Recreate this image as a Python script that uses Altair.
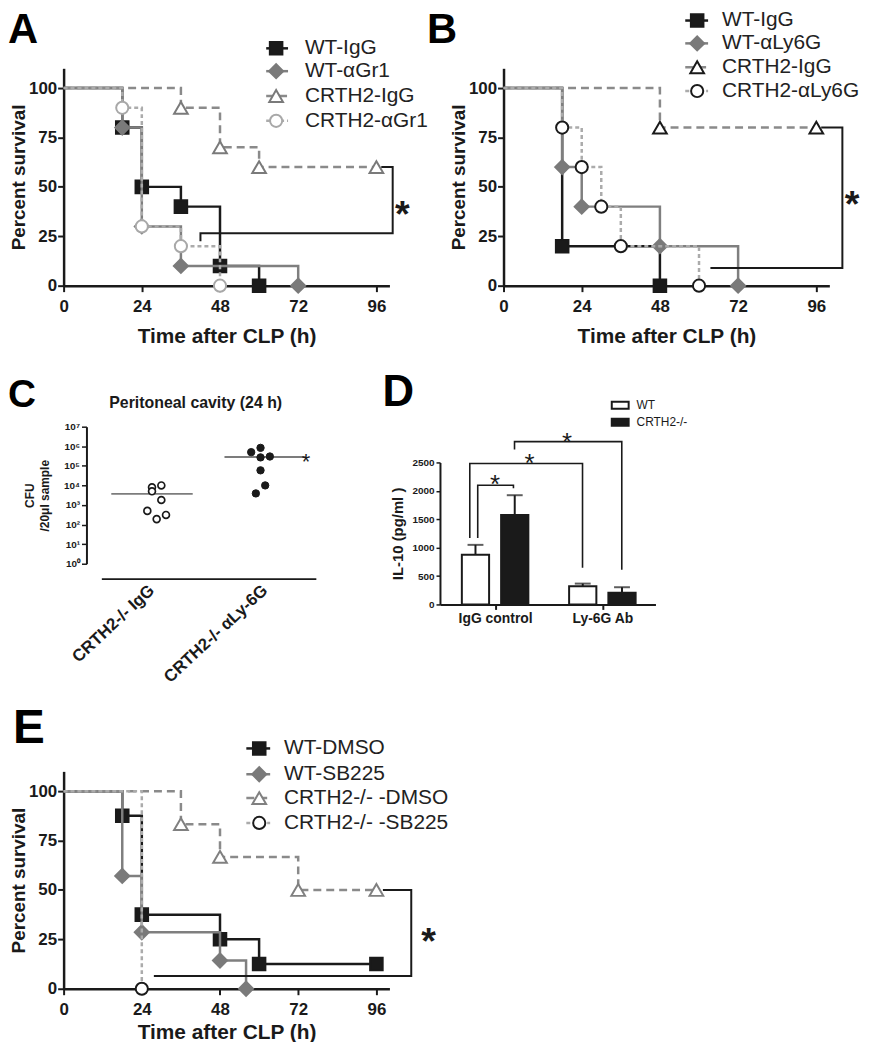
import altair as alt
import pandas as pd

W, H = 862, 1034
FONT = "Liberation Sans"
INK = "#1a1a1a"
PX_H = 3.281   # pixels per hour on survival axes
PX_P = 1.99    # pixels per percent on survival axes

# ---------------- Panel A ----------------
A_NAMES = ["WT-IgG", "WT-\u03b1Gr1", "CRTH2-IgG", "CRTH2-\u03b1Gr1"]
A_WT_IGG_T = [0, 18, 24, 36, 48, 60]
A_WT_IGG_S = [100, 80, 50, 40, 10, 0]
A_WT_GR1_T = [0, 18, 24, 36, 72]
A_WT_GR1_S = [100, 80, 30, 10, 0]
A_KO_IGG_T = [0, 36, 48, 60, 96]
A_KO_IGG_S = [100, 90, 70, 60, 60]
A_KO_GR1_T = [0, 18, 24, 36, 48]
A_KO_GR1_S = [100, 90, 30, 20, 0]
A_BRACKET_T = [97.5, 101, 101, 42, 42]
A_BRACKET_S = [60, 60, 26.5, 26.5, 22.5]
A_STAR = [104, 41]

# ---------------- Panel B ----------------
B_NAMES = ["WT-IgG", "WT-\u03b1Ly6G", "CRTH2-IgG", "CRTH2-\u03b1Ly6G"]
B_WT_IGG_T = [0, 18, 48]
B_WT_IGG_S = [100, 20, 0]
B_WT_LY_T = [0, 18, 24, 48, 72]
B_WT_LY_S = [100, 60, 40, 20, 0]
B_KO_IGG_T = [0, 48, 96]
B_KO_IGG_S = [100, 80, 80]
B_KO_LY_T = [0, 18, 24, 30, 36, 60]
B_KO_LY_S = [100, 80, 60, 40, 20, 0]
B_BRACKET_T = [97.5, 104, 104, 63.5]
B_BRACKET_S = [80, 80, 9, 9]
B_STAR = [107, 46]

# ---------------- Panel E ----------------
E_NAMES = ["WT-DMSO", "WT-SB225", "CRTH2-/- -DMSO", "CRTH2-/- -SB225"]
E_WT_DMSO_T = [0, 18, 24, 48, 60, 96]
E_WT_DMSO_S = [100, 87.5, 37.5, 25, 12.5, 12.5]
E_WT_SB_T = [0, 18, 24, 48, 56]
E_WT_SB_S = [100, 57.1, 28.6, 14.3, 0]
E_KO_DMSO_T = [0, 36, 48, 72, 96]
E_KO_DMSO_S = [100, 83.3, 66.7, 50, 50]
E_KO_SB_T = [0, 24]
E_KO_SB_S = [100, 0]
E_BRACKET_T = [98, 106.7, 106.7, 27.7]
E_BRACKET_S = [50, 50, 6.5, 6.5]
E_STAR = [112, 28.6]

# ---------------- Panel C ----------------
C_GROUPS = ["CRTH2-/- IgG", "CRTH2-/-  \u03b1Ly-6G"]
C_IGG_CFU = [8000, 5000, 10000, 1800, 500, 190, 310]
C_IGG_SLOT = [0, 0, 2, 2, -1, 1, 3]
C_LY_CFU = [500000, 830000, 270000, 300000, 59000, 10000, 3900]
C_LY_SLOT = [-3, -1, -1, 1, -1, 0, -2]
C_MEDIAN = [3700, 280000]

# ---------------- Panel D ----------------
D_GROUPS = ["IgG control", "Ly-6G Ab"]
D_GENO = ["WT", "CRTH2-/-"]
D_WT_MEAN = [874, 320]
D_WT_SEM = [175, 47]
D_KO_MEAN = [1573, 204]
D_KO_SEM = [350, 99]
D_BR1_X = [-0.162, -0.162, 0.171, 0.171]
D_BR1_Y = [1171, 2098, 2098, 2045]
D_BR2_X = [-0.236, -0.236, 0.815, 0.815]
D_BR2_Y = [1171, 2482, 2482, 647]
D_BR3_X = [0.181, 0.181, 1.181, 1.181]
D_BR3_Y = [2727, 2867, 2867, 612]
D_STAR_X = [0, 0.32, 0.67]
D_STAR_Y = [2220, 2587, 2972]

AX = dict(grid=False, domainColor=INK, tickColor=INK, labelFont=FONT,
          labelFontWeight="bold", labelColor=INK, labelFlush=False,
          labelOverlap=False, titleFont=FONT, titleFontWeight="bold",
          titleColor=INK)

DUMMY = pd.DataFrame({"d": [0]})


def style(line, shape, fill, stroke, dash=None, size=160):
    return dict(line=line, dash=dash, shape=shape, fill=fill, stroke=stroke, size=size)


def marker_kw(st):
    return dict(shape=st["shape"], size=st["size"], filled=True, fill=st["fill"],
                stroke=st["stroke"], strokeWidth=2, opacity=1)


def line_kw(st, width=2.5):
    kw = dict(color=st["line"], strokeWidth=width)
    if st["dash"]:
        kw["strokeDash"] = st["dash"]
    return kw


def km_panel(series, origin, bracket, star, title_pad):
    ox, oy = origin
    cx, cy = ox - 8, oy - 8
    xs = alt.Scale(domain=[0, 100], range=[cx, cx + 100 * PX_H], nice=False, zero=False)
    ys = alt.Scale(domain=[0, 110], range=[cy, cy - 110 * PX_P], nice=False, zero=False)
    xa = alt.Axis(orient="bottom", offset=cy - H, values=[0, 24, 48, 72, 96],
                  title="Time after CLP (h)", domainWidth=2.5, tickWidth=2, tickSize=6,
                  labelFontSize=17, labelPadding=7, titleFontSize=21, titlePadding=title_pad,
                  **AX)
    ya = alt.Axis(orient="left", offset=-cx, values=[0, 25, 50, 75, 100],
                  title="Percent survival", domainWidth=2.5, tickWidth=2, tickSize=6,
                  labelFontSize=17, labelPadding=1, titleFontSize=19, titlePadding=0, **AX)
    layers = []
    for k, (t, s, st) in enumerate(series):
        df = pd.DataFrame({"t": t, "s": s})
        layers.append(alt.Chart(df).mark_line(interpolate="step-after", **line_kw(st)).encode(
            x=alt.X("t:Q", scale=xs, axis=xa if k == 0 else None),
            y=alt.Y("s:Q", scale=ys, axis=ya if k == 0 else None)))
        layers.append(alt.Chart(df).transform_filter("datum.t > 0").mark_point(**marker_kw(st)).encode(
            x=alt.X("t:Q", scale=xs, axis=None),
            y=alt.Y("s:Q", scale=ys, axis=None)))
    bt, bs = bracket
    bdf = pd.DataFrame({"i": list(range(len(bt))), "t": bt, "s": bs})
    layers.append(alt.Chart(bdf).mark_line(color=INK, strokeWidth=2).encode(
        x=alt.X("t:Q", scale=xs, axis=None), y=alt.Y("s:Q", scale=ys, axis=None),
        order="i:Q"))
    sdf = pd.DataFrame({"t": [star[0]], "s": [star[1]]})
    layers.append(alt.Chart(sdf).mark_text(text="*", font=FONT, fontSize=38, fontWeight="bold",
                                           baseline="middle", dy=11, color=INK).encode(
        x=alt.X("t:Q", scale=xs, axis=None), y=alt.Y("s:Q", scale=ys, axis=None)))
    return layers


def legend(names, styles, rows_y, lx0, lx1, mx, tx):
    out = []
    for name, st, y in zip(names, styles, rows_y):
        out.append(alt.Chart(DUMMY).mark_rule(**line_kw(st)).encode(
            x=alt.value(lx0), x2=alt.value(lx1), y=alt.value(y)))
        out.append(alt.Chart(DUMMY).mark_point(**marker_kw(st)).encode(
            x=alt.value(mx), y=alt.value(y)))
        out.append(alt.Chart(DUMMY).mark_text(align="left", baseline="middle", font=FONT,
                                              fontSize=21, color="#222222").encode(
            x=alt.value(tx), y=alt.value(y), text=alt.value(name)))
    return out


def letter(ch, x, y, size):
    return alt.Chart(DUMMY).mark_text(align="left", baseline="alphabetic", font=FONT,
                                      fontSize=size, fontWeight="bold", color="#000000").encode(
        x=alt.value(x), y=alt.value(y), text=alt.value(ch))


GRAY_LINE = "#7f7f7f"
GRAY_FILL = "#7a7a7a"
DASH_GRAY = "#8a8a8a"
DOT_GRAY = "#ababab"

A_STYLES = [style(INK, "square", INK, INK, size=160),
            style(GRAY_LINE, "diamond", GRAY_FILL, GRAY_FILL, size=200),
            style(DASH_GRAY, "triangle-up", "white", "#7a7a7a", dash=[8, 5], size=190),
            style(DOT_GRAY, "circle", "white", "#a8a8a8", dash=[4, 3], size=150)]
B_STYLES = [style(INK, "square", INK, INK, size=160),
            style(GRAY_LINE, "diamond", GRAY_FILL, GRAY_FILL, size=200),
            style(DASH_GRAY, "triangle-up", "white", INK, dash=[8, 5], size=190),
            style(DOT_GRAY, "circle", "white", INK, dash=[4, 3], size=150)]
E_STYLES = [style(INK, "square", INK, INK, size=160),
            style(GRAY_LINE, "diamond", GRAY_FILL, GRAY_FILL, size=200),
            style(DASH_GRAY, "triangle-up", "white", "#808080", dash=[8, 5], size=190),
            style(DOT_GRAY, "circle", "white", INK, dash=[4, 3], size=150)]

panel_a = km_panel([(A_WT_IGG_T, A_WT_IGG_S, A_STYLES[0]), (A_WT_GR1_T, A_WT_GR1_S, A_STYLES[1]),
                    (A_KO_IGG_T, A_KO_IGG_S, A_STYLES[2]), (A_KO_GR1_T, A_KO_GR1_S, A_STYLES[3])],
                   (64, 284), (A_BRACKET_T, A_BRACKET_S), A_STAR, 11)
panel_b = km_panel([(B_WT_IGG_T, B_WT_IGG_S, B_STYLES[0]), (B_WT_LY_T, B_WT_LY_S, B_STYLES[1]),
                    (B_KO_IGG_T, B_KO_IGG_S, B_STYLES[2]), (B_KO_LY_T, B_KO_LY_S, B_STYLES[3])],
                   (507, 284), (B_BRACKET_T, B_BRACKET_S), B_STAR, 11)
panel_e = km_panel([(E_WT_DMSO_T, E_WT_DMSO_S, E_STYLES[0]), (E_WT_SB_T, E_WT_SB_S, E_STYLES[1]),
                    (E_KO_DMSO_T, E_KO_DMSO_S, E_STYLES[2]), (E_KO_SB_T, E_KO_SB_S, E_STYLES[3])],
                   (64, 992), (E_BRACKET_T, E_BRACKET_S), E_STAR, 4)

# ---------------- Panel C build ----------------
SUP = "\u2070\u00b9\u00b2\u00b3\u2074\u2075\u2076\u2077"
EXP = "round(log(datum.value)/LN10)"
sup_expr = "''"
for i in reversed(range(8)):
    sup_expr = f"({EXP} == {i} ? '{SUP[i]}' : {sup_expr})"
sup_expr = "'10' + " + sup_expr

C_BAND = 216 / (2 - 0.5 + 2 * 0.1975) * 0.5   # band width of the category scale below
ycS = alt.Scale(type="log", domain=[1, 1e7], range=[556, 418], nice=False)
xcS = alt.Scale(domain=C_GROUPS, range=[94, 310], paddingInner=0.5, paddingOuter=0.1975)
xaC = alt.Axis(orient="bottom", offset=571 - H, title=None, ticks=False, domainWidth=2,
               labelAngle=-43, labelAlign="right", labelBaseline="middle",
               labelFontSize=17, labelPadding=9, **AX)
yaC = alt.Axis(orient="left", offset=-79, values=[10 ** i for i in range(8)], labelExpr=sup_expr,
               domainWidth=2, tickWidth=1.5, tickSize=5, labelFontSize=10, labelPadding=2,
               title=["CFU", "/20\u03bcl sample"], titleFontSize=12, titleLineHeight=15,
               titlePadding=12, **AX)
offS = alt.Scale(domain=[0, 1], range=[C_BAND / 2, C_BAND / 2 + 4.7])

c_med = pd.DataFrame({"grp": C_GROUPS, "cfu": C_MEDIAN})
c_igg = pd.DataFrame({"grp": C_GROUPS[0], "cfu": C_IGG_CFU, "slot": C_IGG_SLOT})
c_ly = pd.DataFrame({"grp": C_GROUPS[1], "cfu": C_LY_CFU, "slot": C_LY_SLOT})
c_star = pd.DataFrame({"grp": [C_GROUPS[1]], "cfu": [C_MEDIAN[1]]})

panel_c = [
    alt.Chart(c_med).mark_tick(orient="horizontal", size=82, thickness=2, color="#444444").encode(
        x=alt.X("grp:N", scale=xcS, axis=xaC), y=alt.Y("cfu:Q", scale=ycS, axis=yaC)),
    alt.Chart(c_igg).mark_point(shape="circle", size=48, filled=True, fill="white", stroke=INK,
                                strokeWidth=1.7, opacity=1).encode(
        x=alt.X("grp:N", scale=xcS, axis=None), y=alt.Y("cfu:Q", scale=ycS, axis=None),
        xOffset=alt.XOffset("slot:Q", scale=offS)),
    alt.Chart(c_ly).mark_point(shape="circle", size=55, filled=True, fill=INK, stroke=INK,
                               strokeWidth=1, opacity=1).encode(
        x=alt.X("grp:N", scale=xcS, axis=None), y=alt.Y("cfu:Q", scale=ycS, axis=None),
        xOffset=alt.XOffset("slot:Q", scale=offS)),
    alt.Chart(c_star).mark_text(text="*", font=FONT, fontSize=22, baseline="middle", dx=44, dy=5,
                                color=INK).encode(
        x=alt.X("grp:N", scale=xcS, axis=None), y=alt.Y("cfu:Q", scale=ycS, axis=None)),
]

# ---------------- Panel D build ----------------
xdS = alt.Scale(domain=[-0.514, 1.495], range=[435, 652], nice=False, zero=False)
ydS = alt.Scale(domain=[0, 2500], range=[597, 454], nice=False, zero=False)
xaD = alt.Axis(orient="bottom", offset=597 - H, values=[0, 1],
               labelExpr="datum.value == 0 ? '%s' : '%s'" % (D_GROUPS[0], D_GROUPS[1]),
               title=None, domainWidth=2, tickWidth=2, tickSize=5, labelFontSize=14,
               labelPadding=2, **AX)
yaD = alt.Axis(orient="left", offset=-435, values=[0, 500, 1000, 1500, 2000, 2500], format="d",
               title="IL-10  (pg/ml )", domainWidth=2, tickWidth=1.5, tickSize=4,
               labelFontSize=10, labelPadding=2, titleFontSize=15, titlePadding=6, **AX)

d_df = pd.DataFrame({
    "grp": [0, 1, 0, 1],
    "geno": [D_GENO[0], D_GENO[0], D_GENO[1], D_GENO[1]],
    "mean": D_WT_MEAN + D_KO_MEAN,
    "sem": D_WT_SEM + D_KO_SEM,
})
d_base = alt.Chart(d_df).transform_calculate(
    xc="datum.grp + (datum.geno == 'WT' ? -0.183 : 0.183)",
    x0="datum.grp + (datum.geno == 'WT' ? -0.183 : 0.183) - 0.127",
    x1="datum.grp + (datum.geno == 'WT' ? -0.183 : 0.183) + 0.127",
    base="0",
    top="datum.mean + datum.sem",
)
panel_d = [
    d_base.mark_rule(color=INK, strokeWidth=2).encode(
        x=alt.X("xc:Q", scale=xdS, axis=xaD), y=alt.Y("mean:Q", scale=ydS, axis=yaD),
        y2="top:Q"),
    d_base.mark_tick(orient="horizontal", size=16, thickness=2, color=INK).encode(
        x=alt.X("xc:Q", scale=xdS, axis=None), y=alt.Y("top:Q", scale=ydS, axis=None)),
    d_base.mark_rect(stroke=INK, strokeWidth=2).encode(
        x=alt.X("x0:Q", scale=xdS, axis=None), x2="x1:Q",
        y=alt.Y("mean:Q", scale=ydS, axis=None), y2="base:Q",
        fill=alt.Fill("geno:N", scale=alt.Scale(domain=D_GENO, range=["white", INK]), legend=None)),
]
for bx, by in [(D_BR1_X, D_BR1_Y), (D_BR2_X, D_BR2_Y), (D_BR3_X, D_BR3_Y)]:
    bdf = pd.DataFrame({"i": list(range(len(bx))), "x": bx, "y": by})
    panel_d.append(alt.Chart(bdf).mark_line(color=INK, strokeWidth=1.6).encode(
        x=alt.X("x:Q", scale=xdS, axis=None), y=alt.Y("y:Q", scale=ydS, axis=None), order="i:Q"))
panel_d.append(alt.Chart(pd.DataFrame({"x": D_STAR_X, "y": D_STAR_Y})).mark_text(
    text="*", font=FONT, fontSize=26, baseline="middle", dy=7, color=INK).encode(
    x=alt.X("x:Q", scale=xdS, axis=None), y=alt.Y("y:Q", scale=ydS, axis=None)))

# ---------------- decorations (legends, letters, titles) ----------------
deco = []
deco += legend(A_NAMES, A_STYLES, [37, 60, 85, 110], 260, 282, 270, 299)
deco += legend(B_NAMES, B_STYLES, [9, 32, 56, 80], 682, 705, 694, 719)
deco += legend(E_NAMES, E_STYLES, [742, 768, 792, 817], 240, 264, 253, 278)
deco.append(letter("A", 0, 32, 42))
deco.append(letter("B", 422, 32, 42))
deco.append(letter("C", 0, 398, 39))
deco.append(letter("D", 377, 397, 44))
deco.append(letter("E", 5, 737, 48))
deco.append(alt.Chart(DUMMY).mark_text(align="center", baseline="middle", font=FONT, fontSize=16,
                                       fontWeight="bold", color=INK).encode(
    x=alt.value(189), y=alt.value(394), text=alt.value("Peritoneal cavity (24 h)")))
for g, fill, y in [(D_GENO[0], "white", 396.5), (D_GENO[1], INK, 413.5)]:
    deco.append(alt.Chart(DUMMY).mark_rect(fill=fill, stroke=INK, strokeWidth=2).encode(
        x=alt.value(608), x2=alt.value(625), y=alt.value(y - 3.5), y2=alt.value(y + 3.5)))
    deco.append(alt.Chart(DUMMY).mark_text(align="left", baseline="middle", font=FONT,
                                           fontSize=12, color=INK).encode(
        x=alt.value(633), y=alt.value(y), text=alt.value(g)))

chart = alt.layer(*panel_a, *panel_b, *panel_c, *panel_d, *panel_e, *deco).resolve_scale(
    x="independent", y="independent"
).properties(
    width=W, height=H, padding=0, autosize=alt.AutoSizeParams(type="none")
).configure(font=FONT).configure_view(stroke=None)

chart.save("out.html", embed_options={"renderer": "svg", "actions": False})
